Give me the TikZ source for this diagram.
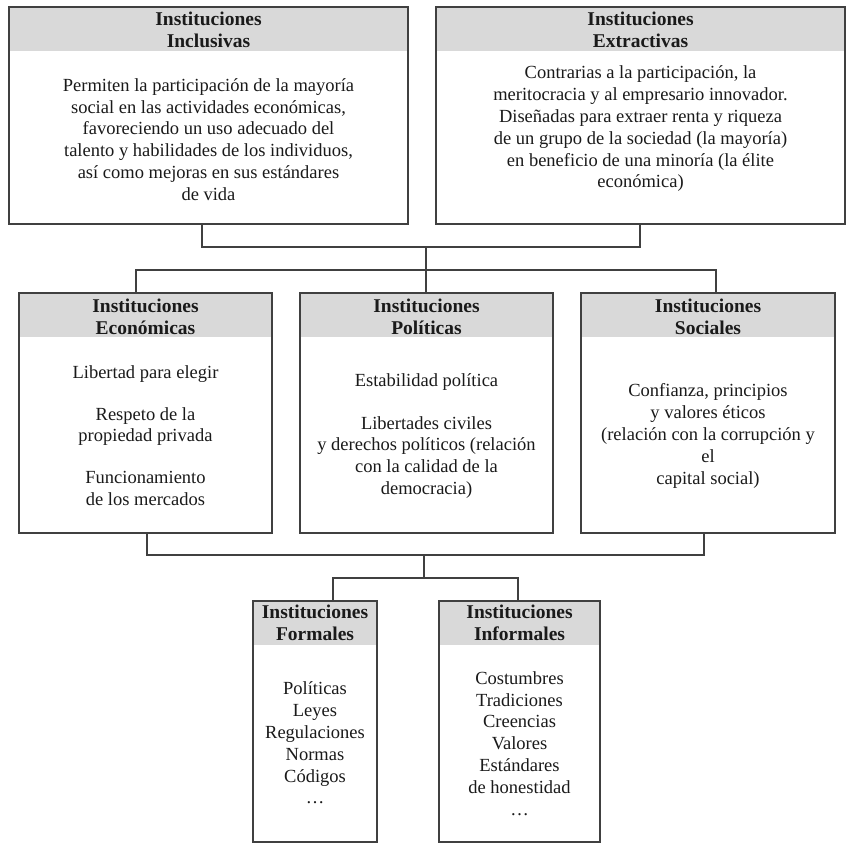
\documentclass[tikz,border=0pt]{standalone}
\usepackage{fontspec}
\setmainfont{Liberation Serif}
\definecolor{boxc}{HTML}{404040}
\definecolor{hdrc}{HTML}{D9D9D9}
\definecolor{txtc}{HTML}{1A1A1A}
\begin{document}
\begin{tikzpicture}[x=1pt,y=-1pt,
  instbox/.style={draw=boxc, line width=1.1pt, inner sep=0pt, fill=white,
    path picture={\fill[hdrc] (path picture bounding box.north west) rectangle ([yshift=-44pt]path picture bounding box.north east);}},
  hdr/.style={font=\fontsize{19.5}{22}\selectfont\bfseries, text=txtc, align=center, inner sep=0pt},
  body/.style={font=\fontsize{18.5}{21.8}\selectfont, text=txtc, align=center, inner sep=0pt},
  conn/.style={draw=boxc, line width=1.1pt}]
\useasboundingbox (0,0) rectangle (856,850);
% boxes
\node[instbox, minimum width=399pt, minimum height=217pt] (inc) at (208.5,115.5) {};
\node[instbox, minimum width=409pt, minimum height=217pt] (ext) at (640.5,115.5) {};
\node[instbox, minimum width=253pt, minimum height=240pt] (eco) at (145.5,413) {};
\node[instbox, minimum width=253pt, minimum height=240pt] (pol) at (426.5,413) {};
\node[instbox, minimum width=254pt, minimum height=240pt] (soc) at (708,413) {};
\node[instbox, minimum width=124pt, minimum height=241pt] (for) at (315,721.5) {};
\node[instbox, minimum width=161pt, minimum height=241pt] (inf) at (519.5,721.5) {};
% headers
\node[hdr] (incT) at (208.5,30) {Instituciones\\Inclusivas};
\node[hdr] (extT) at (640.5,30) {Instituciones\\Extractivas};
\node[hdr] (ecoT) at (145.5,317) {Instituciones\\Económicas};
\node[hdr] (polT) at (426.5,317) {Instituciones\\Políticas};
\node[hdr] (socT) at (708,317) {Instituciones\\Sociales};
\node[hdr] (forT) at (315,623) {Instituciones\\Formales};
\node[hdr] (infT) at (519.5,623) {Instituciones\\Informales};
% bodies
\node[body] (incB) at (208.5,139.5) {Permiten la participación de la mayoría\\social en las actividades económicas,\\favoreciendo un uso adecuado del\\talento y habilidades de los individuos,\\así como mejoras en sus estándares\\de vida};
\node[body] (extB) at (640.5,129) {Contrarias a la participación, la\\meritocracia y al empresario innovador.\\Diseñadas para extraer renta y riqueza\\de un grupo de la sociedad (la mayoría)\\en beneficio de una minoría (la élite\\económica)};
\node[body] (ecoB) at (145.5,435.5) {Libertad para elegir\\[20pt]Respeto de la\\propiedad privada\\[20pt]Funcionamiento\\de los mercados};
\node[body] (polB) at (426.5,436) {Estabilidad política\\[21pt]Libertades civiles\\y derechos políticos (relación\\con la calidad de la\\democracia)};
\node[body] (socB) at (708,436) {Confianza, principios\\y valores éticos\\(relación con la corrupción y\\el\\capital social)};
\node[body] (forB) at (315,743) {Políticas\\Leyes\\Regulaciones\\Normas\\Códigos\\…};
\node[body] (infB) at (519.5,743.5) {Costumbres\\Tradiciones\\Creencias\\Valores\\Estándares\\de honestidad\\…};
% connectors
\coordinate (ja) at (202,247);
\coordinate (jb) at (640,247);
\coordinate (jm) at (426,247);
\coordinate (jh) at (426,270);
\coordinate (hl) at (136,270);
\coordinate (hr) at (716,270);
\draw[conn] (inc.south -| ja) -- (ja) -- (jb) -- (ext.south -| jb);
\draw[conn] (jm) -- (jh);
\draw[conn] (eco.north -| hl) -- (hl) -- (hr) -- (soc.north -| hr);
\draw[conn] (jh) -- (pol.north -| jh);
\coordinate (bl) at (147,555);
\coordinate (br) at (704,555);
\coordinate (bm) at (424,555);
\coordinate (bn) at (424,578);
\coordinate (fl) at (333,578);
\coordinate (fr) at (518,578);
\draw[conn] (eco.south -| bl) -- (bl) -- (br) -- (soc.south -| br);
\draw[conn] (bm) -- (bn);
\draw[conn] (for.north -| fl) -- (fl) -- (fr) -- (inf.north -| fr);
\end{tikzpicture}
\end{document}
